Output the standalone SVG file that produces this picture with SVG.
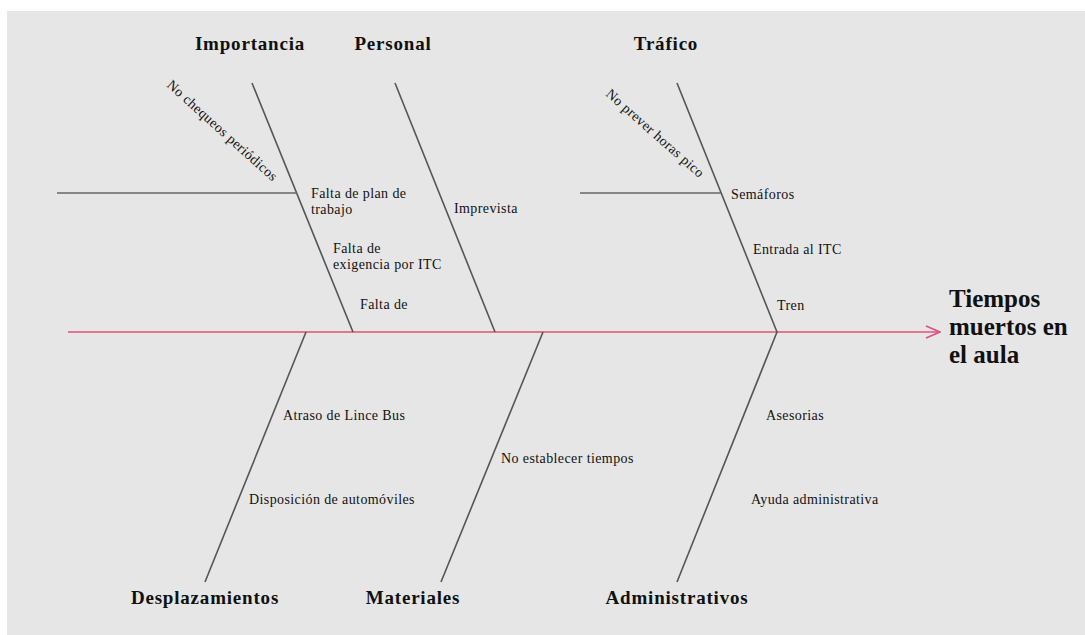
<svg xmlns="http://www.w3.org/2000/svg" width="1085" height="635" viewBox="0 0 1085 635">
<style>
.bone{stroke:#555;stroke-width:1.6;fill:none}
.sub{stroke:#666;stroke-width:1.4;fill:none}
.spine{stroke:#e0507a;stroke-width:1.6;fill:none}
.lbl{font-family:"Liberation Serif",serif;font-size:14px;letter-spacing:0.4px;fill:#111}
.cat{font-family:"Liberation Serif",serif;font-size:19px;letter-spacing:0.8px;font-weight:bold;fill:#111}
.head{font-family:"Liberation Serif",serif;font-size:25px;font-weight:bold;fill:#111}
</style>
<defs>
<marker id="arr" markerWidth="16" markerHeight="14" refX="15" refY="7" orient="auto" markerUnits="userSpaceOnUse">
<path d="M1,1 L15,7 L1,13" fill="none" stroke="#e0507a" stroke-width="1.6"/>
</marker>
</defs>
<rect x="0" y="0" width="1085" height="635" fill="#ffffff"/>
<rect x="7" y="11" width="1078" height="624" fill="#e6e6e6"/>
<g id="connectors">
<line class="spine" x1="68" y1="332" x2="940" y2="332" marker-end="url(#arr)"/>
<line class="bone" x1="252" y1="83" x2="353" y2="332"/>
<line class="bone" x1="395" y1="83" x2="495" y2="332"/>
<line class="bone" x1="677" y1="83" x2="777" y2="332"/>
<line class="sub" x1="57" y1="193" x2="297" y2="193"/>
<line class="sub" x1="580" y1="193" x2="721" y2="193"/>
<line class="bone" x1="306" y1="332" x2="205" y2="582"/>
<line class="bone" x1="543" y1="332" x2="441" y2="582"/>
<line class="bone" x1="777" y1="332" x2="677" y2="582"/>
</g>
<g id="effect">
<text class="head" x="949" y="307">Tiempos</text>
<text class="head" x="949" y="335">muertos en</text>
<text class="head" x="949" y="363">el aula</text>
</g>
<g id="importancia">
<text class="cat" x="250" y="50" text-anchor="middle">Importancia</text>
<text class="lbl" transform="translate(166,86) rotate(42)">No chequeos periódicos</text>
<text class="lbl" x="311" y="198">Falta de plan de</text>
<text class="lbl" x="311" y="214">trabajo</text>
<text class="lbl" x="333" y="253">Falta de</text>
<text class="lbl" x="333" y="269">exigencia por ITC</text>
<text class="lbl" x="360" y="309">Falta de</text>
</g>
<g id="personal">
<text class="cat" x="393" y="50" text-anchor="middle">Personal</text>
<text class="lbl" x="454" y="213">Imprevista</text>
</g>
<g id="trafico">
<text class="cat" x="666" y="50" text-anchor="middle">Tráfico</text>
<text class="lbl" transform="translate(605,95) rotate(41.5)">No prever horas pico</text>
<text class="lbl" x="731" y="199">Semáforos</text>
<text class="lbl" x="753" y="254">Entrada al ITC</text>
<text class="lbl" x="777" y="310">Tren</text>
</g>
<g id="desplazamientos">
<text class="cat" x="205" y="604" text-anchor="middle">Desplazamientos</text>
<text class="lbl" x="283" y="420">Atraso de Lince Bus</text>
<text class="lbl" x="249" y="504">Disposición de automóviles</text>
</g>
<g id="materiales">
<text class="cat" x="413" y="604" text-anchor="middle">Materiales</text>
<text class="lbl" x="501" y="463">No establecer tiempos</text>
</g>
<g id="administrativos">
<text class="cat" x="677" y="604" text-anchor="middle">Administrativos</text>
<text class="lbl" x="766" y="420">Asesorias</text>
<text class="lbl" x="751" y="504">Ayuda administrativa</text>
</g>
</svg>
